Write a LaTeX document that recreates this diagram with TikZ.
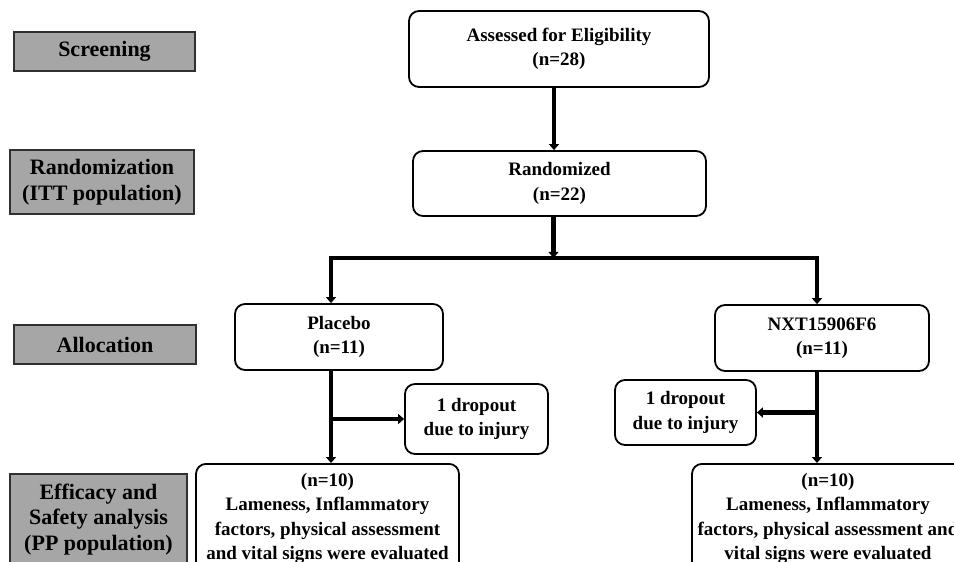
\documentclass[tikz,border=0pt]{standalone}
\usepackage{fontspec}
\setmainfont{Liberation Serif}
\usetikzlibrary{arrows.meta, calc, positioning}

\definecolor{stagegray}{HTML}{A6A6A6}
\definecolor{edgegray}{HTML}{303030}

\tikzset{
  stage/.style={draw=edgegray, line width=1.6pt, fill=stagegray, align=center,
    font=\fontsize{22}{25.5}\selectfont\bfseries, inner sep=0pt},
  box/.style={draw, line width=1.8pt, rounded corners=10pt, align=center,
    font=\fontsize{19}{24.5}\selectfont\bfseries, inner sep=0pt},
  flow/.style={line width=4.5pt, -{Triangle[length=6pt,width=10pt]}},
}

\begin{document}
\begin{tikzpicture}[x=1pt, y=-1pt]
  \useasboundingbox (0,0) rectangle (954,562);
  \clip (0,0) rectangle (954,562);

  % stage labels on the left
  \node[stage, minimum width=181pt, minimum height=39pt] (screen) at (104.5,51.5) {Screening};
  \node[stage, minimum width=184pt, minimum height=64pt] (randlabel) at (102,182) {Randomization\\(ITT population)};
  \node[stage, minimum width=182pt, minimum height=39pt] (alloc) at (105,344.5) {Allocation};
  \node[stage, minimum width=177pt, anchor=north, inner ysep=10pt] (analysis) at (98.5,473) {Efficacy and\\Safety analysis\\(PP population)};

  % flow boxes
  \node[box, minimum width=300pt, minimum height=76pt] (assess) at (559,49) {Assessed for Eligibility\\(n=28)};
  \node[box, minimum width=293pt, minimum height=65pt] (random) at (559.5,183.5) {Randomized\\(n=22)};
  \node[box, minimum width=208pt, minimum height=66pt] (placebo) at (339,337) {Placebo\\(n=11)};
  \node[box, minimum width=214pt, minimum height=66pt] (drug) at (822,338) {NXT15906F6\\(n=11)};
  \node[box, minimum width=143pt, minimum height=70pt] (dropL) at (476.5,419) {1 dropout\\due to injury};
  \node[box, minimum width=141pt, minimum height=65pt] (dropR) at (685.5,412.5) {1 dropout\\due to injury};
  \node[box, minimum width=263pt, anchor=north, inner ysep=9pt] (ppL) at (327.5,463) {(n=10)\\Lameness, Inflammatory\\factors, physical assessment\\and vital signs were evaluated};
  \node[box, minimum width=272pt, anchor=north, inner ysep=9pt] (ppR) at (828,463) {(n=10)\\Lameness, Inflammatory\\factors, physical assessment and\\vital signs were evaluated};

  % trunk columns sit a little left of the box centres
  \coordinate (topcol) at ($(assess.south)+(-5,0)$);
  \coordinate (split) at ($(random.south)+(-6,41)$);
  \coordinate (leftcol) at ($(placebo.north)+(-8,0)$);
  \coordinate (rightcol) at ($(drug.north)+(-5,0)$);

  \draw[flow] (topcol) -- (topcol |- random.north);
  \draw[flow] (split |- random.south) -- (split);
  \draw[flow] (split) -| (leftcol);
  \draw[flow] (split) -| (rightcol);
  \draw[flow] (leftcol |- placebo.south) -- (leftcol |- ppL.north);
  \draw[flow] (rightcol |- drug.south) -- (rightcol |- ppR.north);
  \draw[flow] (leftcol |- dropL.west) -- (dropL.west);
  \draw[flow] (rightcol |- dropR.east) -- (dropR.east);

\end{tikzpicture}
\end{document}
